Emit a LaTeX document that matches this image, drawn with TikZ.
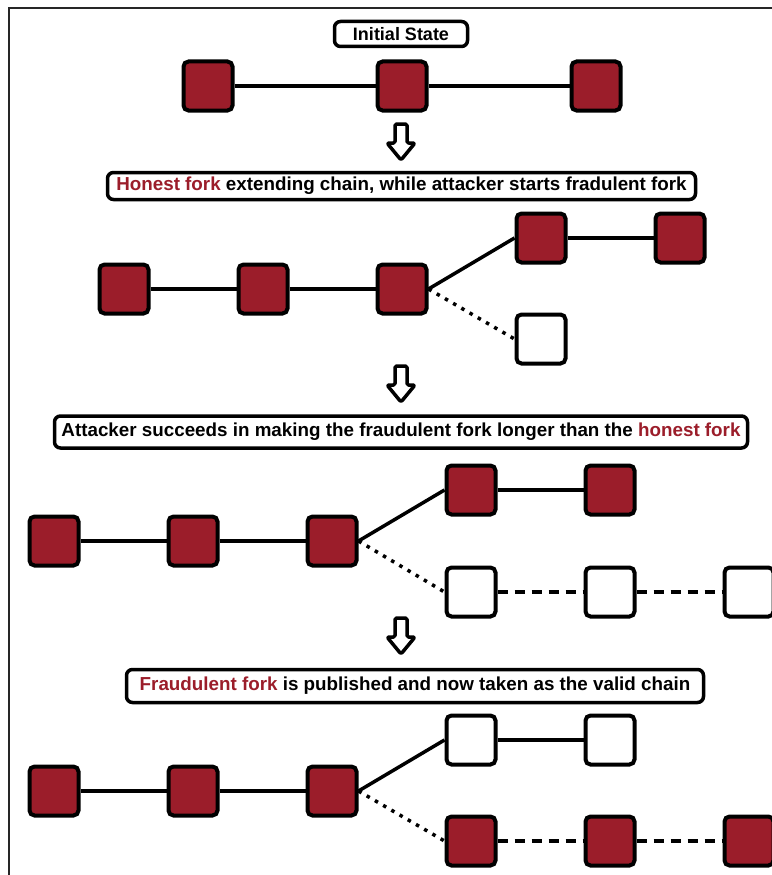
\documentclass[tikz,border=0pt]{standalone}
\usepackage{fontspec}
\setmainfont{Liberation Sans}
\definecolor{blockred}{HTML}{9B1D2A}
\begin{document}
\begin{tikzpicture}[x=1pt,y=-1pt,
  blk/.style={draw=black, line width=4pt, rounded corners=5pt, minimum size=49pt, inner sep=0pt},
  redblk/.style={blk, fill=blockred},
  whiteblk/.style={blk, fill=white},
  capbox/.style={draw, line width=3.5pt, rounded corners=6pt, inner sep=0pt, fill=white,
    font=\fontsize{18.8}{21}\selectfont\bfseries},
  link/.style={line width=3.5pt},
  dotlink/.style={link, dash pattern=on 3.5pt off 6pt},
  dashlink/.style={link, dash pattern=on 10pt off 7pt},
  downarrow/.style={draw, line width=3.5pt, fill=white, rounded corners=1.5pt, line join=round},
  downarr/.pic={\path[downarrow] (-6,0) -- (-6,19) -- (-14,19) -- (0,36) -- (14,19) -- (6,19) -- (6,0) -- cycle;}
]
\useasboundingbox (0,0) rectangle (771,875);
% frame
\draw[line width=1.2pt, black!85] (9,880) -- (9,8) -- (780,8);

% ---- stage 1
\node[capbox, minimum width=133pt, minimum height=25pt, font=\fontsize{18}{20}\selectfont\bfseries] (t1) at (401,34) {Initial State};
\node[redblk] (a1) at (208,86) {};
\node[redblk] (a2) at (402,86) {};
\node[redblk] (a3) at (596,86) {};
\draw[link] (a1.east) -- (a2.west);
\draw[link] (a2.east) -- (a3.west);
\pic at (401,124) {downarr};

% ---- stage 2
\node[capbox, minimum width=588pt, minimum height=27pt] (t2) at (401.5,186)
  {\textcolor{blockred}{Honest fork} extending chain, while attacker starts fradulent fork};
\node[redblk] (b1) at (124,289) {};
\node[redblk] (b2) at (263,289) {};
\node[redblk] (b3) at (402,289) {};
\node[redblk] (b4) at (541,238) {};
\node[redblk] (b5) at (680,238) {};
\node[whiteblk] (b6) at (541,339) {};
\draw[link] (b1.east) -- (b2.west);
\draw[link] (b2.east) -- (b3.west);
\draw[link] (b3.east) -- (b4.west);
\draw[link] (b4.east) -- (b5.west);
\draw[dotlink] (b3.east) -- (b6.west);
\pic at (401,366) {downarr};

% ---- stage 3
\node[capbox, minimum width=693pt, minimum height=32pt] (t3) at (401,432)
  {Attacker succeeds in making the fraudulent fork longer than the \textcolor{blockred}{honest fork}};
\node[redblk] (c1) at (54,541) {};
\node[redblk] (c2) at (193,541) {};
\node[redblk] (c3) at (332,541) {};
\node[redblk] (c4) at (471,490) {};
\node[redblk] (c5) at (610,490) {};
\node[whiteblk] (c6) at (471,592) {};
\node[whiteblk] (c7) at (610,592) {};
\node[whiteblk] (c8) at (749,592) {};
\draw[link] (c1.east) -- (c2.west);
\draw[link] (c2.east) -- (c3.west);
\draw[link] (c3.east) -- (c4.west);
\draw[link] (c4.east) -- (c5.west);
\draw[dotlink] (c3.east) -- (c6.west);
\draw[dashlink] (c6.east) -- (c7.west);
\draw[dashlink] (c7.east) -- (c8.west);
\pic at (401,618) {downarr};

% ---- stage 4
\node[capbox, minimum width=577pt, minimum height=33pt] (t4) at (415,686)
  {\textcolor{blockred}{Fraudulent fork} is published and now taken as the valid chain};
\node[redblk] (d1) at (54,791) {};
\node[redblk] (d2) at (193,791) {};
\node[redblk] (d3) at (332,791) {};
\node[whiteblk] (d4) at (471,740) {};
\node[whiteblk] (d5) at (610,740) {};
\node[redblk] (d6) at (471,841) {};
\node[redblk] (d7) at (610,841) {};
\node[redblk] (d8) at (749,841) {};
\draw[link] (d1.east) -- (d2.west);
\draw[link] (d2.east) -- (d3.west);
\draw[link] (d3.east) -- (d4.west);
\draw[link] (d4.east) -- (d5.west);
\draw[dotlink] (d3.east) -- (d6.west);
\draw[dashlink] (d6.east) -- (d7.west);
\draw[dashlink] (d7.east) -- (d8.west);
\end{tikzpicture}
\end{document}
